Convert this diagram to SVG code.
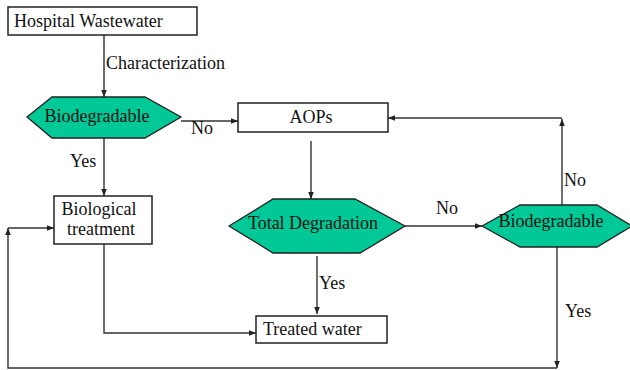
<svg xmlns="http://www.w3.org/2000/svg" width="630" height="370" viewBox="0 0 630 370">
<defs>
<marker id="ah" viewBox="0 0 10 10" refX="10" refY="5" markerWidth="7" markerHeight="7" markerUnits="userSpaceOnUse" orient="auto">
<path d="M0,1 L10,5 L0,9 z" fill="#222"/>
</marker>
</defs>
<rect width="630" height="370" fill="#fff"/>
<g id="connectors" fill="none" stroke="#333" stroke-width="1.4">
<line x1="104" y1="35" x2="104" y2="97" marker-end="url(#ah)"/>
<line x1="181" y1="121" x2="238" y2="121" marker-end="url(#ah)"/>
<line x1="104" y1="138" x2="104" y2="196" marker-end="url(#ah)"/>
<line x1="311" y1="141" x2="311" y2="199" marker-end="url(#ah)"/>
<line x1="317" y1="256" x2="317" y2="314" marker-end="url(#ah)"/>
<line x1="405" y1="226" x2="482" y2="226" marker-end="url(#ah)"/>
<line x1="562" y1="205" x2="562" y2="119" marker-end="url(#ah)"/>
<line x1="562" y1="118" x2="388" y2="118" marker-end="url(#ah)"/>
<polyline points="104,244 104,333 256,333" marker-end="url(#ah)"/>
<line x1="557" y1="247" x2="557" y2="368" marker-end="url(#ah)"/>
<polyline points="557,368 8,368 8,228" marker-end="url(#ah)"/>
<line x1="8" y1="228" x2="54" y2="228" marker-end="url(#ah)"/>
</g>
<g id="labels" fill="#111" stroke="none">
<text font-family="Liberation Serif" font-size="18" x="106" y="69">Characterization</text>
<text font-family="Liberation Serif" font-size="18" x="191" y="134">No</text>
<text font-family="Liberation Serif" font-size="18" x="70" y="167">Yes</text>
<text font-family="Liberation Serif" font-size="18" x="319" y="289">Yes</text>
<text font-family="Liberation Serif" font-size="18" x="436" y="214">No</text>
<text font-family="Liberation Serif" font-size="18" x="564" y="186">No</text>
<text font-family="Liberation Serif" font-size="18" x="565" y="317">Yes</text>
</g>
<g id="hospital">
<rect x="8" y="7" width="189" height="28" fill="#fff" stroke="#222" stroke-width="1.5"/>
<text font-family="Liberation Serif" font-size="18" fill="#111" x="14" y="27">Hospital Wastewater</text>
</g>
<g id="biodegradable1">
<polygon points="27,117 52,97 145,97 181,117 145,138 52,138" fill="#00c896" stroke="#222" stroke-width="1.3"/>
<text font-family="Liberation Serif" font-size="18" fill="#111" text-anchor="middle" x="97" y="122">Biodegradable</text>
</g>
<g id="aops">
<rect x="238" y="103" width="150" height="29" fill="#fff" stroke="#222" stroke-width="1.5"/>
<text font-family="Liberation Serif" font-size="18" fill="#111" text-anchor="middle" x="311" y="123">AOPs</text>
</g>
<g id="biological">
<rect x="54" y="196" width="98" height="48" fill="#fff" stroke="#222" stroke-width="1.5"/>
<text font-family="Liberation Serif" font-size="18" fill="#111" text-anchor="middle" x="99" y="215">Biological</text>
<text font-family="Liberation Serif" font-size="18" fill="#111" text-anchor="middle" x="101" y="235">treatment</text>
</g>
<g id="totaldeg">
<polygon points="229,226 273,199 355,199 405,226 360,253 273,253" fill="#00c896" stroke="#222" stroke-width="1.3"/>
<text font-family="Liberation Serif" font-size="18" fill="#111" text-anchor="middle" x="313" y="229">Total Degradation</text>
</g>
<g id="biodegradable2">
<polygon points="482,226 520,205 597,205 632,226 597,247 520,247" fill="#00c896" stroke="#222" stroke-width="1.3"/>
<text font-family="Liberation Serif" font-size="18" fill="#111" text-anchor="middle" x="551" y="227">Biodegradable</text>
</g>
<g id="treated">
<rect x="256" y="316" width="131" height="27" fill="#fff" stroke="#222" stroke-width="1.5"/>
<text font-family="Liberation Serif" font-size="18" fill="#111" x="263" y="335">Treated water</text>
</g>
</svg>
